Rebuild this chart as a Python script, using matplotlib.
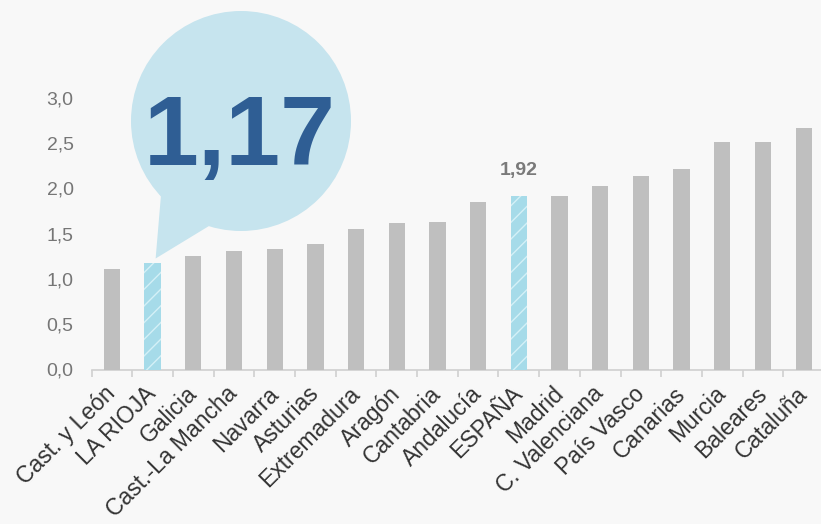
import numpy as np
import matplotlib
matplotlib.use("Agg")
import matplotlib.pyplot as plt
from matplotlib.patches import Circle, Polygon
from matplotlib.transforms import IdentityTransform
from matplotlib.ticker import FixedLocator

regiones = ["Cast. y León", "LA RIOJA", "Galicia", "Cast.-La Mancha", "Navarra",
            "Asturias", "Extremadura", "Aragón", "Cantabria", "Andalucía",
            "ESPAÑA", "Madrid", "C. Valenciana", "País Vasco", "Canarias",
            "Murcia", "Baleares", "Cataluña"]
valores = [1.11, 1.17, 1.25, 1.31, 1.33, 1.38, 1.55, 1.62, 1.63, 1.85,
           1.92, 1.92, 2.03, 2.14, 2.21, 2.51, 2.51, 2.67]
destacados = ["LA RIOJA", "ESPAÑA"]
yticks = [0.0, 0.5, 1.0, 1.5, 2.0, 2.5, 3.0]

plt.rcParams['font.family'] = ['Liberation Sans', 'DejaVu Sans']

bg = '#f8f8f8'
fig = plt.figure(figsize=(8.21, 5.24), dpi=100, facecolor=bg)
ax = fig.add_axes([91.6/821, 154.5/524, 732.4/821, 271.8/524])
ax.set_facecolor(bg)

x = np.arange(len(regiones))
for i, (r, v) in enumerate(zip(regiones, valores)):
    if r in destacados:
        ax.bar(i, v, width=0.4, color='#a6dbe9', edgecolor='#d4f0f7',
               linewidth=0, hatch='//', zorder=3)
    else:
        ax.bar(i, v, width=0.4, color='#bfbfbf', linewidth=0, zorder=3)

ax.set_xlim(-0.5, len(regiones) - 0.5)
ax.set_ylim(0, 3.0)

for s in ['top', 'right', 'left']:
    ax.spines[s].set_visible(False)
ax.spines['bottom'].set_color('#d0d0d0')
ax.spines['bottom'].set_linewidth(1.2)

ax.set_xticks(x)
ax.set_xticklabels(regiones, rotation=45, ha='right', va='center',
                   rotation_mode='anchor', fontsize=16.5, color='#333333')
ax.tick_params(axis='x', which='major', length=0, pad=15)
ax.xaxis.set_minor_locator(FixedLocator(np.arange(-0.5, len(regiones), 1.0)))
ax.tick_params(axis='x', which='minor', length=5, width=1.2, color='#d0d0d0')

ax.set_yticks(yticks)
ax.set_yticklabels([f"{t:.1f}".replace('.', ',') for t in yticks],
                   fontsize=14, color='#767676')
ax.tick_params(axis='y', length=0, pad=13)

# etiqueta de España
i_es = regiones.index("ESPAÑA")
ax.annotate(f"{valores[i_es]:.2f}".replace('.', ','), xy=(i_es, valores[i_es]),
            xytext=(0, 21), textcoords='offset pixels', ha='center',
            va='baseline', fontsize=14, fontweight='bold', color='#7a7a7a')

# bocadillo de La Rioja
i_lr = regiones.index("LA RIOJA")
tip = ax.transData.transform((i_lr, valores[i_lr]))
tip = (tip[0] + 3, tip[1] + 5)
bubble_col = '#c6e4ee'
cx, cy, rad = 241, 524 - 121, 110
circ = Circle((cx, cy), rad, transform=IdentityTransform(), facecolor=bubble_col,
              edgecolor='none', zorder=5)
tail = Polygon([(161, 524 - 195), tip, (209, 524 - 226)], closed=True,
               transform=IdentityTransform(), facecolor=bubble_col,
               edgecolor='none', zorder=5)
fig.add_artist(circ)
fig.add_artist(tail)
fig.text(240/821, (524 - 165)/524, f"{valores[i_lr]:.2f}".replace('.', ','),
         ha='center', va='baseline', fontsize=71, fontweight='bold',
         color='#2f5e94', zorder=6)

fig.savefig("out.png", dpi=100, facecolor=bg)
